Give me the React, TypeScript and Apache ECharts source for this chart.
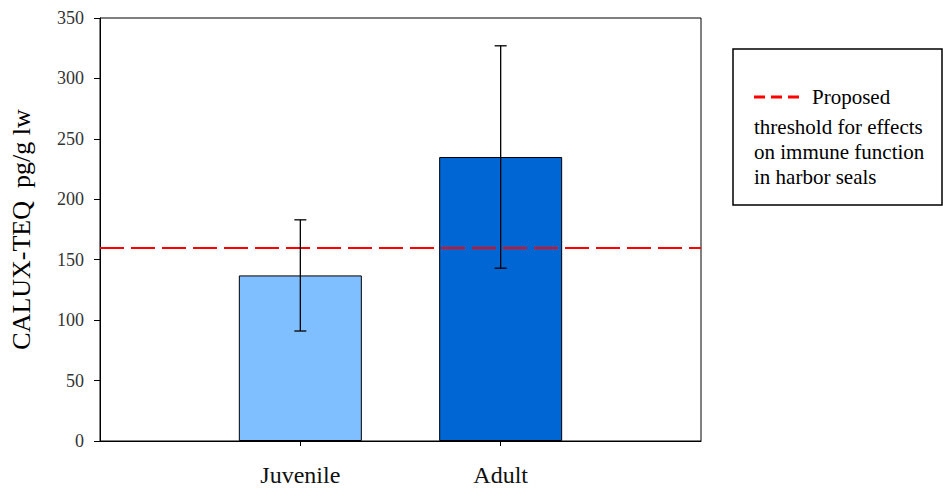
import React, { useEffect, useRef } from "react";
import * as echarts from "echarts";

const categories = ["", "Juvenile", "Adult", ""];
const meanValues = [null, 137, 235, null];
const errorLow = [null, 91, 143, null];
const errorHigh = [null, 183, 327, null];
const barColors = ["#80BFFF", "#80BFFF", "#0066D3", "#0066D3"];
const thresholdValue = 160;
const yTicks = { min: 0, max: 350, interval: 50 };
const legendLines = ["threshold for effects", "on immune function", "in harbor seals"];

const FONT = "Liberation Serif";

export default function App() {
  const ref = useRef<HTMLDivElement>(null);
  useEffect(() => {
    if (!ref.current) return;
    const chart = echarts.init(ref.current, undefined, { renderer: "svg" });
    const errData = categories
      .map((c, i) => (errorLow[i] == null ? null : [i, errorLow[i], errorHigh[i]]))
      .filter((d) => d != null);
    chart.setOption({
      animation: false,
      textStyle: { fontFamily: FONT },
      grid: {
        left: 97,
        right: 242,
        top: 18,
        bottom: 48,
        show: true,
        borderColor: "#000",
        borderWidth: 1,
        backgroundColor: "transparent",
      },
      xAxis: {
        type: "category",
        data: categories,
        boundaryGap: false,
        axisLine: { lineStyle: { color: "#000", width: 1 } },
        axisTick: {
          length: 5,
          lineStyle: { color: "#000" },
          interval: (i: number) => i === 1 || i === 2,
        },
        axisLabel: {
          interval: (i: number) => i === 1 || i === 2,
          fontFamily: FONT,
          fontSize: 24,
          color: "#111",
          margin: 22,
        },
        splitLine: { show: false },
      },
      yAxis: {
        type: "value",
        min: yTicks.min,
        max: yTicks.max,
        interval: yTicks.interval,
        name: "CALUX-TEQ  pg/g lw",
        nameLocation: "middle",
        nameGap: 66,
        nameTextStyle: { fontFamily: FONT, fontSize: 26, color: "#000" },
        axisLine: { show: true, lineStyle: { color: "#000", width: 1 } },
        axisTick: { show: true, length: 6, lineStyle: { color: "#000" } },
        axisLabel: { fontFamily: FONT, fontSize: 18, color: "#333", margin: 16 },
        splitLine: { show: false },
      },
      series: [
        {
          type: "bar",
          barWidth: 123,
          data: meanValues.map((v, i) => ({
            value: v,
            itemStyle: { color: barColors[i], borderColor: "#000", borderWidth: 1 },
          })),
          markLine: {
            silent: true,
            symbol: ["none", "none"],
            label: { show: false },
            lineStyle: { color: "#FF0000", width: 2, type: [24, 7] },
            data: [{ yAxis: thresholdValue }],
          },
          z: 2,
        },
        {
          type: "custom",
          data: errData,
          z: 5,
          renderItem: (params: any, api: any) => {
            const x = api.value(0);
            const lo = api.coord([x, api.value(1)]);
            const hi = api.coord([x, api.value(2)]);
            const half = 6;
            const style = { stroke: "#000", lineWidth: 1.3 };
            return {
              type: "group",
              children: [
                { type: "line", shape: { x1: lo[0], y1: lo[1], x2: hi[0], y2: hi[1] }, style },
                { type: "line", shape: { x1: lo[0] - half, y1: lo[1], x2: lo[0] + half, y2: lo[1] }, style },
                { type: "line", shape: { x1: hi[0] - half, y1: hi[1], x2: hi[0] + half, y2: hi[1] }, style },
              ],
            };
          },
        },
      ],
      graphic: [
        {
          type: "rect",
          shape: { x: 733, y: 49, width: 209, height: 156 },
          style: { fill: "#fff", stroke: "#000", lineWidth: 1.5 },
        },
        {
          type: "line",
          shape: { x1: 754, y1: 97, x2: 800, y2: 97 },
          style: { stroke: "#FF0000", lineWidth: 3, lineDash: [11, 6] },
        },
        {
          type: "text",
          x: 812,
          y: 97,
          style: {
            text: "Proposed",
            fontFamily: FONT,
            fontSize: 21,
            fill: "#000",
            textVerticalAlign: "middle",
          },
        },
        ...legendLines.map((t, i) => ({
          type: "text",
          x: 754,
          y: 127 + i * 25,
          style: {
            text: t,
            fontFamily: FONT,
            fontSize: 21,
            fill: "#000",
            textVerticalAlign: "middle",
          },
        })),
      ],
    });
    return () => chart.dispose();
  }, []);
  return <div ref={ref} style={{ width: 943, height: 489, position: "absolute", left: 0, top: 0 }} />;
}
